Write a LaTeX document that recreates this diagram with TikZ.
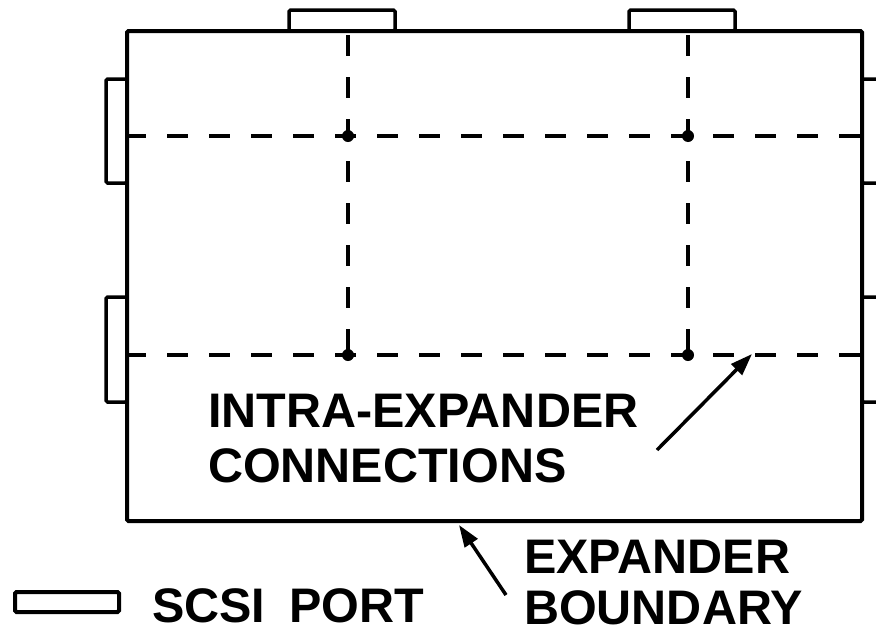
\documentclass[tikz,border=0pt]{standalone}
\usepackage{fontspec}
\setmainfont{Liberation Sans}
\usetikzlibrary{arrows.meta}
\tikzset{
  port/.style={line width=3.5pt, rounded corners=1.5pt, fill=white},
  intra/.style={line width=4pt, dash pattern=on 21pt off 21pt},
  lbl/.style={anchor=base west, inner sep=0pt, font=\fontsize{48.5}{56}\selectfont\bfseries},
  pointer/.style={line width=3.5pt, -{Triangle[length=22pt,width=15pt]}}
}
\begin{document}
\begin{tikzpicture}[x=1pt,y=-1pt]
   \useasboundingbox (0,0) rectangle (876,635);

   % SCSI ports round the expander
   \draw [port] (289,10) rectangle (395,31);
   \draw [port] (629,10) rectangle (735,31);
   \draw [port] (106,79) rectangle (127,183);
   \draw [port] (106,297) rectangle (127,402);
   \draw [port] (862,79) rectangle (885,183);
   \draw [port] (862,297) rectangle (885,402);

   % Expander boundary
   \draw [line width=4pt, rounded corners=1.5pt] (127,31) rectangle (862,521);

   % Intra-expander connections
   \draw [intra, dash phase=-2pt] (348,33) -- (348,355);
   \draw [intra, dash phase=-2pt] (688,33) -- (688,355);
   \draw [intra, dash phase=4pt] (129,136) -- (860,136);
   \draw [intra, dash phase=4pt] (129,355) -- (860,355);
   \foreach \x in {348,688}
     \foreach \y in {136,355}
       \fill (\x,\y) circle (6pt);

   % Labels
   \node (intra) [lbl] at (208,427) {INTRA-EXPANDER};
   \node (conn) [lbl] at (208,482) {CONNECTIONS};
   \node (exp) [lbl] at (524,573) {EXPANDER};
   \node (bnd) [lbl] at (524,624) {BOUNDARY};
   \node (scsi) [lbl] at (152,622) {SCSI\hspace{0.5em}PORT};

   \coordinate (conntail) at (657,450);
   \coordinate (conntip) at (752,354);
   \coordinate (bndtail) at (506,595);
   \coordinate (bndtip) at (459,525);
   \draw [pointer] (conntail) -- (conntip);
   \draw [pointer] (bndtail) -- (bndtip);

   % Legend
   \draw [line width=4pt, rounded corners=1.5pt] (15,592) rectangle (119,612);
\end{tikzpicture}
\end{document}
